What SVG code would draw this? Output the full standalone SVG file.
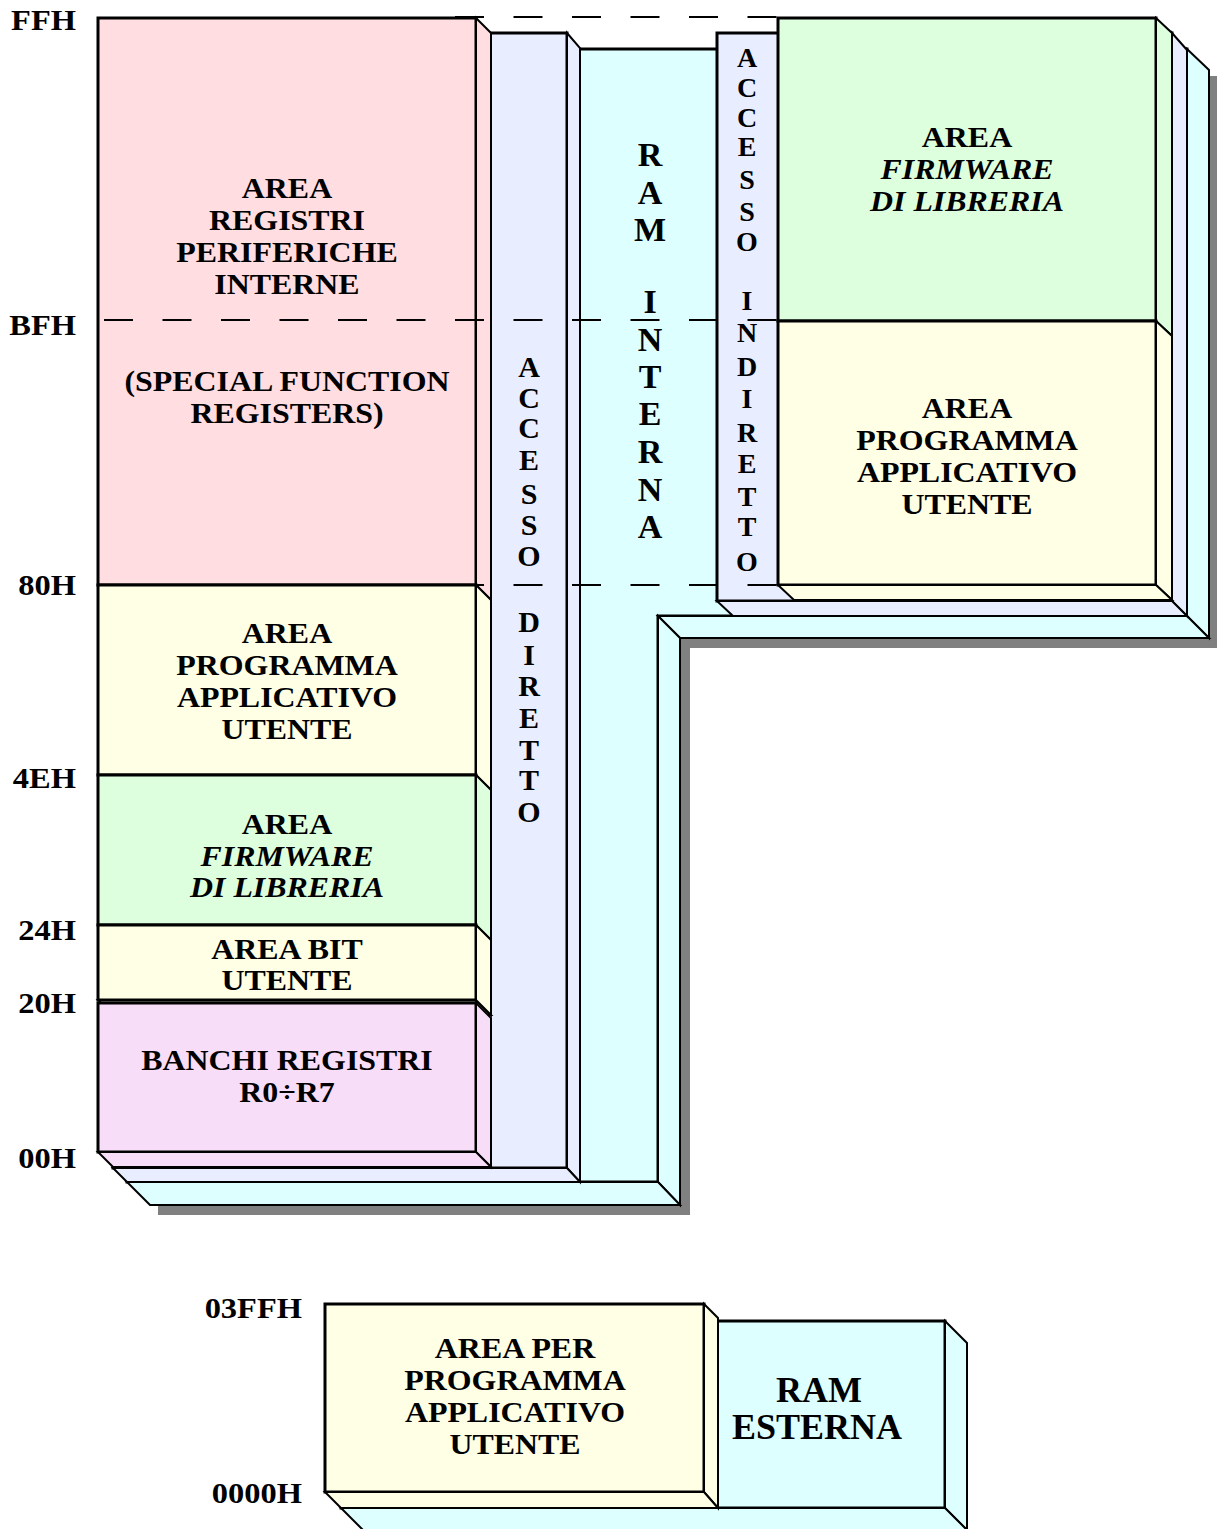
<svg xmlns="http://www.w3.org/2000/svg" width="1217" height="1529" viewBox="0 0 1217 1529">
<style>
.f{stroke:#000;stroke-width:3;stroke-linejoin:miter}
.s{stroke:#000;stroke-width:2;stroke-linejoin:miter}
.pk{fill:#FFDDE1}.yl{fill:#FFFFE6}.gr{fill:#DEFFDE}.mg{fill:#F8DDF8}.bl{fill:#E8EEFF}.cy{fill:#DDFFFF}
.sh{fill:#808080}
.t{font-family:"Liberation Serif","Times New Roman",serif;font-weight:bold;font-size:29px;text-anchor:middle;fill:#000}
.it{font-style:italic}
.lb{font-family:"Liberation Serif","Times New Roman",serif;font-weight:bold;font-size:29px;text-anchor:end;fill:#000}
.v{font-family:"Liberation Serif","Times New Roman",serif;font-weight:bold;font-size:30px;text-anchor:middle;fill:#000}
.vs{font-family:"Liberation Serif","Times New Roman",serif;font-weight:bold;font-size:28px;text-anchor:middle;fill:#000}
.vb{font-family:"Liberation Serif","Times New Roman",serif;font-weight:bold;font-size:34px;text-anchor:middle;fill:#000}
.big{font-family:"Liberation Serif","Times New Roman",serif;font-weight:bold;font-size:36px;text-anchor:middle;fill:#000}
.d{stroke:#000;stroke-width:2;stroke-dasharray:29 29.5;fill:none}
</style>

<g id="ram-interna">
<polygon class="sh" points="1209,76 1218,76 1218,648 690,648 690,1215 158,1215 158,1205 680,1205 680,638 1209,638"/>
<polygon class="cy f" points="127,49 1187,49 1187,616 658,616 658,1182 127,1182"/>
<polygon class="cy s" points="1187,49 1209,70 1209,638 1187,616"/>
<polygon class="cy s" points="658,616 1187,616 1209,638 680,638"/>
<polygon class="cy s" points="658,616 680,638 680,1205 658,1182"/>
<polygon class="cy s" points="127,1182 658,1182 680,1205 150,1205"/>
<g>
<text class="vb" x="650" y="166">R</text>
<text class="vb" x="650" y="204">A</text>
<text class="vb" x="650" y="241">M</text>
<text class="vb" x="650" y="313">I</text>
<text class="vb" x="650" y="351">N</text>
<text class="vb" x="650" y="388">T</text>
<text class="vb" x="650" y="425">E</text>
<text class="vb" x="650" y="463">R</text>
<text class="vb" x="650" y="501">N</text>
<text class="vb" x="650" y="538">A</text>
</g>
</g>

<g id="accesso-diretto">
<rect class="bl f" x="113" y="33" width="454" height="1135"/>
<polygon class="bl s" points="567,33 580,48 580,1182 567,1168"/>
<polygon class="bl s" points="113,1168 567,1168 580,1182 127,1182"/>
<text class="v" x="529" y="377">A</text>
<text class="v" x="529" y="408">C</text>
<text class="v" x="529" y="438">C</text>
<text class="v" x="529" y="470">E</text>
<text class="v" x="529" y="504">S</text>
<text class="v" x="529" y="535">S</text>
<text class="v" x="529" y="566">O</text>
<text class="v" x="529" y="632">D</text>
<text class="v" x="529" y="665">I</text>
<text class="v" x="529" y="696">R</text>
<text class="v" x="529" y="728">E</text>
<text class="v" x="529" y="760">T</text>
<text class="v" x="529" y="790">T</text>
<text class="v" x="529" y="822">O</text>
</g>

<g id="accesso-indiretto">
<rect class="bl f" x="717" y="33" width="455" height="568"/>
<polygon class="bl s" points="1172,33 1187,50 1187,616 1172,601"/>
<polygon class="bl s" points="717,601 1172,601 1187,616 733,616"/>
<text class="vs" x="747" y="67">A</text>
<text class="vs" x="747" y="97">C</text>
<text class="vs" x="747" y="127">C</text>
<text class="vs" x="747" y="156">E</text>
<text class="vs" x="747" y="189">S</text>
<text class="vs" x="747" y="221">S</text>
<text class="vs" x="747" y="251">O</text>
<text class="vs" x="747" y="310">I</text>
<text class="vs" x="747" y="342">N</text>
<text class="vs" x="747" y="376">D</text>
<text class="vs" x="747" y="408">I</text>
<text class="vs" x="747" y="442">R</text>
<text class="vs" x="747" y="473">E</text>
<text class="vs" x="747" y="506">T</text>
<text class="vs" x="747" y="536">T</text>
<text class="vs" x="747" y="571">O</text>
</g>

<g id="sfr">
<rect class="pk f" x="98" y="18" width="378" height="567"/>
<polygon class="pk s" points="476,18 491,33 491,600 476,585"/>
<g transform="translate(287,0) scale(1.1,1)">
<text class="t" x="0" y="198">AREA</text>
<text class="t" x="0" y="230">REGISTRI</text>
<text class="t" x="0" y="262">PERIFERICHE</text>
<text class="t" x="0" y="294">INTERNE</text>
<text class="t" x="0" y="391">(SPECIAL FUNCTION</text>
<text class="t" x="0" y="423">REGISTERS)</text>
</g>
</g>

<g id="prog-left">
<rect class="yl f" x="98" y="585" width="378" height="190"/>
<polygon class="yl s" points="476,585 491,600 491,790 476,775"/>
<g transform="translate(287,0) scale(1.1,1)">
<text class="t" x="0" y="643">AREA</text>
<text class="t" x="0" y="675">PROGRAMMA</text>
<text class="t" x="0" y="707">APPLICATIVO</text>
<text class="t" x="0" y="739">UTENTE</text>
</g>
</g>

<g id="firmware-left">
<rect class="gr f" x="98" y="775" width="378" height="150"/>
<polygon class="gr s" points="476,775 491,790 491,940 476,925"/>
<g transform="translate(287,0) scale(1.1,1)">
<text class="t" x="0" y="834">AREA</text>
<text class="t it" x="0" y="866">FIRMWARE</text>
<text class="t it" x="0" y="897">DI LIBRERIA</text>
</g>
</g>

<g id="bit-area">
<polygon class="yl s" points="98,1000 476,1000 491,1015 113,1015"/>
<rect class="yl f" x="98" y="925" width="378" height="75"/>
<polygon class="yl s" points="476,925 491,940 491,1015 476,1000"/>
<g transform="translate(287,0) scale(1.1,1)">
<text class="t" x="0" y="959">AREA BIT</text>
<text class="t" x="0" y="990">UTENTE</text>
</g>
</g>

<g id="banchi">
<rect class="mg f" x="98" y="1003" width="378" height="149"/>
<polygon class="mg s" points="476,1003 491,1018 491,1167 476,1152"/>
<polygon class="mg s" points="98,1152 476,1152 491,1167 113,1167"/>
<g transform="translate(287,0) scale(1.1,1)">
<text class="t" x="0" y="1070">BANCHI REGISTRI</text>
<text class="t" x="0" y="1102">R0÷R7</text>
</g>
</g>

<g id="firmware-right">
<rect class="gr f" x="778" y="18" width="378" height="303"/>
<polygon class="gr s" points="1156,18 1172,33 1172,336 1156,321"/>
<g transform="translate(967,0) scale(1.1,1)">
<text class="t" x="0" y="147">AREA</text>
<text class="t it" x="0" y="179">FIRMWARE</text>
<text class="t it" x="0" y="211">DI LIBRERIA</text>
</g>
</g>

<g id="prog-right">
<rect class="yl f" x="778" y="321" width="378" height="264"/>
<polygon class="yl s" points="1156,321 1172,336 1172,600 1156,585"/>
<polygon class="yl s" points="778,585 1156,585 1172,600 794,600"/>
<g transform="translate(967,0) scale(1.1,1)">
<text class="t" x="0" y="418">AREA</text>
<text class="t" x="0" y="450">PROGRAMMA</text>
<text class="t" x="0" y="482">APPLICATIVO</text>
<text class="t" x="0" y="514">UTENTE</text>
</g>
</g>

<g id="ram-esterna">
<rect class="cy f" x="341" y="1321" width="604" height="187"/>
<polygon class="cy s" points="945,1321 967,1343 967,1530 945,1508"/>
<polygon class="cy s" points="341,1508 945,1508 967,1530 363,1530"/>
<text class="big" x="819" y="1402">RAM</text>
<text class="big" x="817" y="1439">ESTERNA</text>
</g>

<g id="prog-external">
<rect class="yl f" x="325" y="1304" width="379" height="188"/>
<polygon class="yl s" points="704,1304 718,1318 718,1508 704,1492"/>
<polygon class="yl s" points="325,1492 704,1492 718,1508 341,1508"/>
<g transform="translate(515,0) scale(1.1,1)">
<text class="t" x="0" y="1358">AREA PER</text>
<text class="t" x="0" y="1390">PROGRAMMA</text>
<text class="t" x="0" y="1422">APPLICATIVO</text>
<text class="t" x="0" y="1454">UTENTE</text>
</g>
</g>

<g id="connectors">
<line class="d" x1="455" y1="17" x2="778" y2="17"/>
<line class="d" x1="104" y1="320" x2="778" y2="320"/>
<line class="d" x1="455" y1="585" x2="778" y2="585"/>
</g>

<g id="labels">
<text class="lb" transform="translate(76,30) scale(1.12,1)">FFH</text>
<text class="lb" transform="translate(76,335) scale(1.12,1)">BFH</text>
<text class="lb" transform="translate(76,595) scale(1.12,1)">80H</text>
<text class="lb" transform="translate(76,788) scale(1.12,1)">4EH</text>
<text class="lb" transform="translate(76,940) scale(1.12,1)">24H</text>
<text class="lb" transform="translate(76,1013) scale(1.12,1)">20H</text>
<text class="lb" transform="translate(76,1168) scale(1.12,1)">00H</text>
<text class="lb" transform="translate(302,1318) scale(1.12,1)">03FFH</text>
<text class="lb" transform="translate(302,1503) scale(1.12,1)">0000H</text>
</g>
</svg>
